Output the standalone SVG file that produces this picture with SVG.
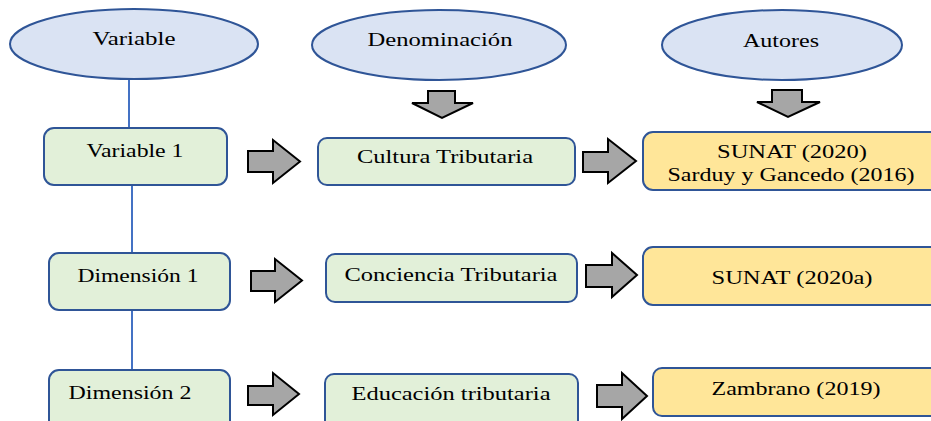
<svg xmlns="http://www.w3.org/2000/svg" width="931" height="421" viewBox="0 0 931 421">
<style>
.ell{fill:#dae3f3;stroke:#2f5597;stroke-width:2}
.gb{fill:#e2f0d9;stroke:#2f5597;stroke-width:2}
.yb{fill:#ffe699;stroke:#2f5597;stroke-width:2}
.arr{fill:#a6a6a6;stroke:#000;stroke-width:2;stroke-linejoin:miter}
.ln{stroke:#4472c4;stroke-width:2;fill:none}
text{font-family:"Liberation Serif","Times New Roman",serif;font-size:19px;fill:#000;text-anchor:middle}
</style>
<rect width="931" height="421" fill="#fff"/>
<g id="connectors">
<line class="ln" x1="129" y1="80" x2="129" y2="128"/>
<line class="ln" x1="132" y1="185" x2="132" y2="253"/>
<line class="ln" x1="132" y1="310" x2="132" y2="370"/>
<path class="arr" d="M248,151 H273 V140 L300,161.5 L273,183 V172 H248 Z"/>
<path class="arr" d="M583,152 H608 V139 L636,161 L608,183 V172 H583 Z"/>
<path class="arr" d="M251,271 H275 V259 L302,280.5 L275,302 V291 H251 Z"/>
<path class="arr" d="M586,265 H612 V253 L637,275 L612,297 V287 H586 Z"/>
<path class="arr" d="M248,386 H273 V373 L299,394 L273,415 V405 H248 Z"/>
<path class="arr" d="M597,385 H622 V373 L647,396 L622,419 V407 H597 Z"/>
<path class="arr" d="M428,91 H455 V103 H473 L442,118 L412,103 H428 Z"/>
<path class="arr" d="M772,90 H802 V102 H820 L788,117 L757,102 H772 Z"/>
</g>
<g id="variable"><ellipse class="ell" cx="134" cy="44" rx="124" ry="35"/><text x="134" y="45" textLength="83" lengthAdjust="spacingAndGlyphs">Variable</text></g>
<g id="denominacion"><ellipse class="ell" cx="439" cy="45" rx="127" ry="35"/><text x="440" y="46" textLength="145" lengthAdjust="spacingAndGlyphs">Denominación</text></g>
<g id="autores"><ellipse class="ell" cx="782" cy="45" rx="120" ry="35"/><text x="781" y="47" textLength="76" lengthAdjust="spacingAndGlyphs">Autores</text></g>
<g id="variable1"><rect class="gb" x="44" y="128" width="183" height="57" rx="10"/><text x="135" y="157" textLength="97" lengthAdjust="spacingAndGlyphs">Variable 1</text></g>
<g id="cultura"><rect class="gb" x="318" y="138" width="257" height="47" rx="9"/><text x="445" y="163" textLength="176" lengthAdjust="spacingAndGlyphs">Cultura Tributaria</text></g>
<g id="sunat2020"><rect class="yb" x="643" y="132" width="300" height="58" rx="10"/><text x="792" y="158" textLength="150" lengthAdjust="spacingAndGlyphs">SUNAT (2020)</text><text x="791" y="181" textLength="247" lengthAdjust="spacingAndGlyphs">Sarduy y Gancedo (2016)</text></g>
<g id="dimension1"><rect class="gb" x="49" y="253" width="181" height="57" rx="10"/><text x="138" y="282" textLength="121" lengthAdjust="spacingAndGlyphs">Dimensión 1</text></g>
<g id="conciencia"><rect class="gb" x="326" y="254" width="251" height="48" rx="9"/><text x="451" y="281" textLength="213" lengthAdjust="spacingAndGlyphs">Conciencia Tributaria</text></g>
<g id="sunat2020a"><rect class="yb" x="643" y="247" width="300" height="58" rx="10"/><text x="792" y="284" textLength="161" lengthAdjust="spacingAndGlyphs">SUNAT (2020a)</text></g>
<g id="dimension2"><rect class="gb" x="49" y="370" width="181" height="60" rx="10"/><text x="130" y="399" textLength="123" lengthAdjust="spacingAndGlyphs">Dimensión 2</text></g>
<g id="educacion"><rect class="gb" x="325" y="374" width="253" height="56" rx="9"/><text x="451" y="400" textLength="199" lengthAdjust="spacingAndGlyphs">Educación tributaria</text></g>
<g id="zambrano"><rect class="yb" x="653" y="368" width="290" height="48" rx="9"/><text x="796" y="395" textLength="169" lengthAdjust="spacingAndGlyphs">Zambrano (2019)</text></g>
</svg>
